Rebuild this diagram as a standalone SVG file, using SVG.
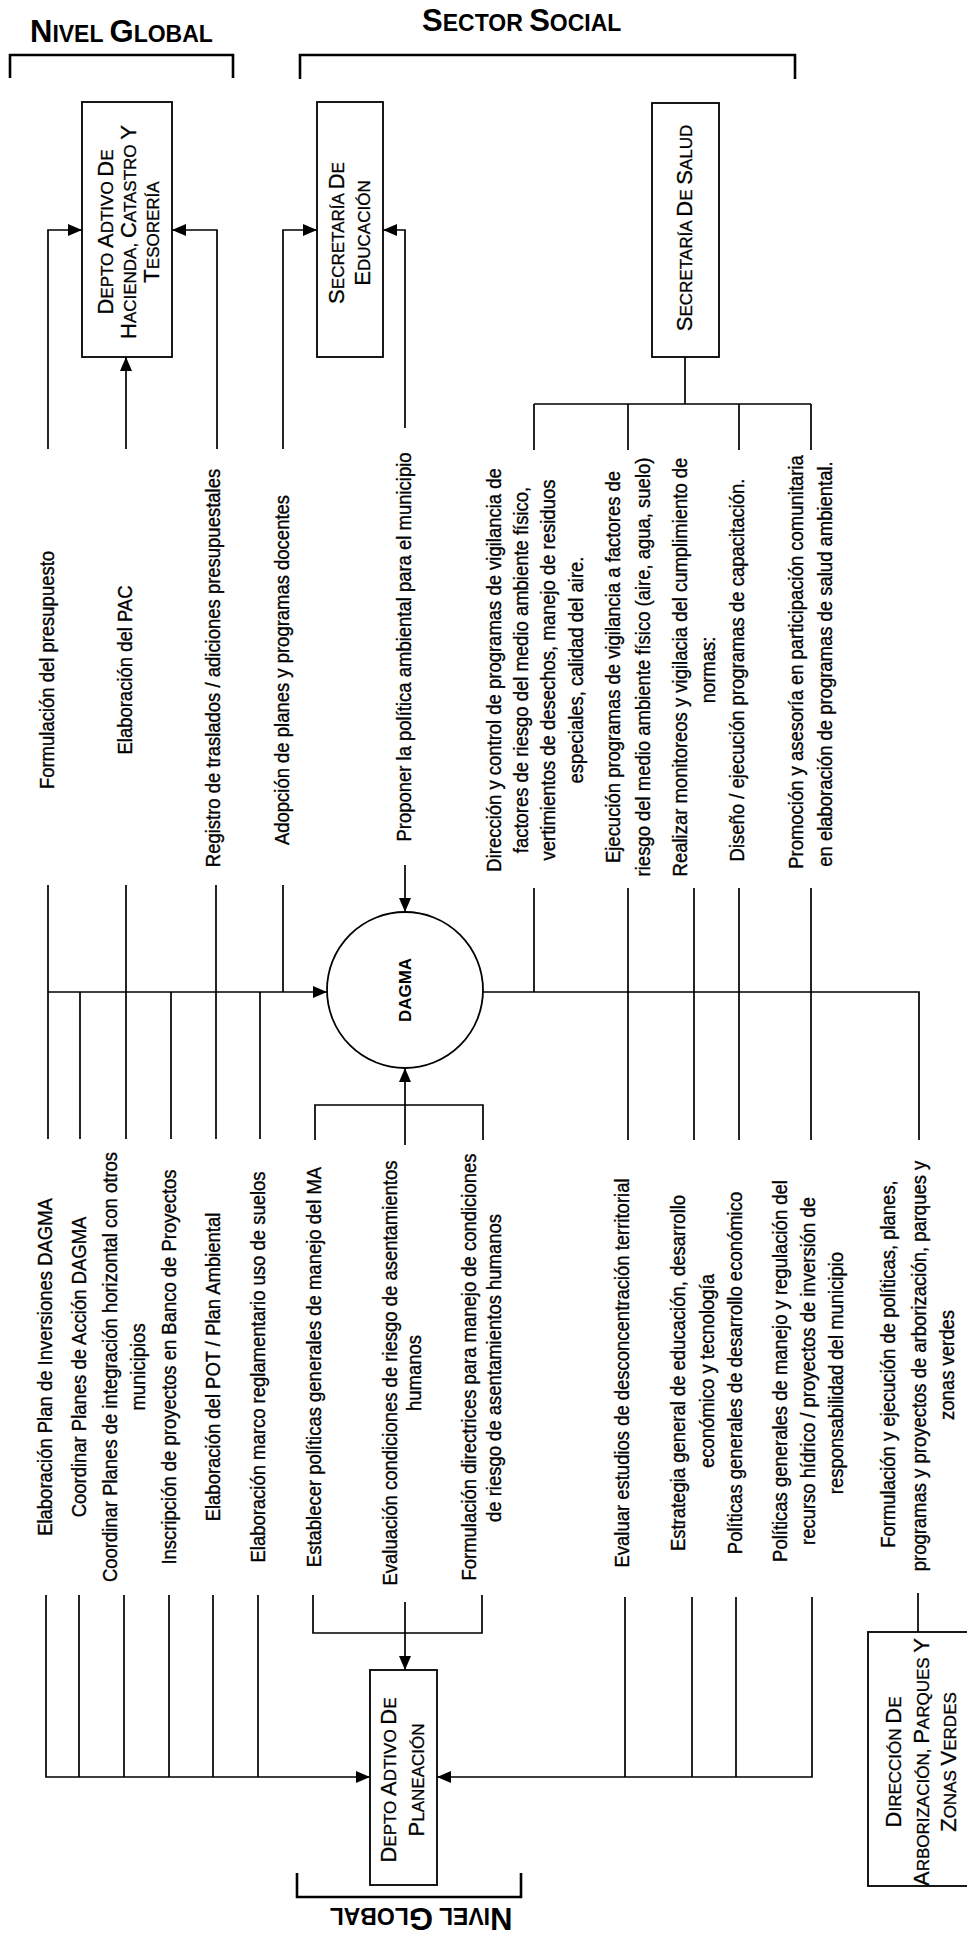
<svg xmlns="http://www.w3.org/2000/svg" width="967" height="1944" viewBox="0 0 967 1944">
<style>
text{font-family:"Liberation Sans",Arial,sans-serif;fill:#000}
.t{font-size:21px;stroke:#000;stroke-width:0.35}
.bx{font-size:17px;stroke:#000;stroke-width:0.3}
.B{font-size:22px}
.h{font-size:23px;font-weight:bold}
.H{font-size:31px}
.c{fill:none;stroke:#000;stroke-width:1.7}
.n{fill:#fff;stroke:#000;stroke-width:1.8}
.br{fill:none;stroke:#000;stroke-width:2.6}
</style>
<defs>
<marker id="ar" viewBox="0 0 14 12" refX="14" refY="6" markerWidth="14" markerHeight="12" markerUnits="userSpaceOnUse" orient="auto">
<path d="M0,0 L14,6 L0,12 z" fill="#000"/>
</marker>
</defs>
<rect width="967" height="1944" fill="#fff"/>

<g id="headers">
<path class="br" d="M10,78 V55 H233 V78"/>
<path class="br" d="M300,79 V55 H795 V79"/>
<path class="br" d="M297,1873 V1897 H521 V1873"/>
<text class="h" x="30" y="42"><tspan class="H">N</tspan>IVEL <tspan class="H">G</tspan>LOBAL</text>
<text class="h" x="422" y="31"><tspan class="H">S</tspan>ECTOR <tspan class="H">S</tspan>OCIAL</text>
<text class="h" text-anchor="middle" transform="translate(421,1908) rotate(180)"><tspan class="H">N</tspan>IVEL <tspan class="H">G</tspan>LOBAL</text>
</g>

<g id="connectors">
<path class="c" d="M48,449 V230 H82" marker-end="url(#ar)"/>
<path class="c" d="M126,449 V357" marker-end="url(#ar)"/>
<path class="c" d="M217,449 V230 H172" marker-end="url(#ar)"/>
<path class="c" d="M283,449 V230 H317" marker-end="url(#ar)"/>
<path class="c" d="M405,428 V230 H383" marker-end="url(#ar)"/>
<path class="c" d="M685,357 V404 M534,404 H811 M534,404 V450 M628,404 V450 M739,404 V450 M811,404 V450"/>
<path class="c" d="M405,865 V912" marker-end="url(#ar)"/>
<path class="c" d="M48,885 V1139 M126,885 V1139 M216,885 V1139 M283,885 V992 M80,992 V1139 M171,992 V1139 M260,992 V1139"/>
<path class="c" d="M48,992 H327" marker-end="url(#ar)"/>
<path class="c" d="M483,992 H919 V1140 M534,888 V992 M628,888 V1140 M694,888 V1140 M739,888 V1140 M811,888 V1140"/>
<path class="c" d="M405,1145 V1068" marker-end="url(#ar)"/>
<path class="c" d="M315,1140 V1105 H483 V1140"/>
<path class="c" d="M46,1595 V1777 H370" marker-end="url(#ar)"/>
<path class="c" d="M79,1595 V1777 M124,1595 V1777 M169,1595 V1777 M213,1595 V1777 M258,1595 V1777"/>
<path class="c" d="M313,1595 V1633 H482 V1595"/>
<path class="c" d="M405,1602 V1670" marker-end="url(#ar)"/>
<path class="c" d="M812,1597 V1777 H437" marker-end="url(#ar)"/>
<path class="c" d="M625,1597 V1777 M692,1597 V1777 M736,1597 V1777"/>
<path class="c" d="M918,1593 V1632"/>
</g>

<g id="hacienda">
<rect class="n" x="82" y="102" width="90" height="255"/>
<text class="bx" text-anchor="middle" transform="translate(113,232) rotate(-90)"><tspan class="B">D</tspan>EPTO <tspan class="B">A</tspan>DTIVO <tspan class="B">D</tspan>E</text>
<text class="bx" text-anchor="middle" transform="translate(136,232) rotate(-90)"><tspan class="B">H</tspan>ACIENDA, <tspan class="B">C</tspan>ATASTRO <tspan class="B">Y</tspan></text>
<text class="bx" text-anchor="middle" transform="translate(159,232) rotate(-90)"><tspan class="B">T</tspan>ESORERÍA</text>
</g>

<g id="educacion">
<rect class="n" x="317" y="102" width="66" height="255"/>
<text class="bx" text-anchor="middle" transform="translate(344,233) rotate(-90)"><tspan class="B">S</tspan>ECRETARÍA <tspan class="B">D</tspan>E</text>
<text class="bx" text-anchor="middle" transform="translate(370,233) rotate(-90)"><tspan class="B">E</tspan>DUCACIÓN</text>
</g>

<g id="salud">
<rect class="n" x="652" y="103" width="67" height="254"/>
<text class="bx" text-anchor="middle" transform="translate(692,228) rotate(-90)"><tspan class="B">S</tspan>ECRETARÍA <tspan class="B">D</tspan>E <tspan class="B">S</tspan>ALUD</text>
</g>

<g id="dagma">
<circle class="n" cx="405" cy="990" r="78"/>
<text text-anchor="middle" font-size="17" font-weight="bold" transform="translate(411,990) rotate(-90)">DAGMA</text>
</g>

<g id="planeacion">
<rect class="n" x="370" y="1670" width="67" height="215"/>
<text class="bx" text-anchor="middle" transform="translate(396,1780) rotate(-90)"><tspan class="B">D</tspan>EPTO <tspan class="B">A</tspan>DTIVO <tspan class="B">D</tspan>E</text>
<text class="bx" text-anchor="middle" transform="translate(424,1780) rotate(-90)"><tspan class="B">P</tspan>LANEACIÓN</text>
</g>

<g id="arborizacion">
<rect class="n" x="868" y="1632" width="110" height="254"/>
<text class="bx" text-anchor="middle" transform="translate(901,1762) rotate(-90)"><tspan class="B">D</tspan>IRECCIÓN <tspan class="B">D</tspan>E</text>
<text class="bx" text-anchor="middle" transform="translate(929,1762) rotate(-90)"><tspan class="B">A</tspan>RBORIZACIÓN, <tspan class="B">P</tspan>ARQUES <tspan class="B">Y</tspan></text>
<text class="bx" text-anchor="middle" transform="translate(956,1762) rotate(-90)"><tspan class="B">Z</tspan>ONAS <tspan class="B">V</tspan>ERDES</text>
</g>

<g id="labels" class="t" text-anchor="middle">
<text transform="translate(54,670) rotate(-90) scale(0.88,1)">Formulación del presupuesto</text>
<text transform="translate(132,670) rotate(-90) scale(0.88,1)">Elaboración del PAC</text>
<text transform="translate(220,668) rotate(-90) scale(0.88,1)">Registro de traslados / adiciones presupuestales</text>
<text transform="translate(289,670) rotate(-90) scale(0.88,1)">Adopción de planes y programas docentes</text>
<text transform="translate(411,647) rotate(-90) scale(0.88,1)">Proponer la política ambiental para el municipio</text>

<text transform="translate(501,670) rotate(-90) scale(0.88,1)">Dirección y control de programas de vigilancia de</text>
<text transform="translate(528,670) rotate(-90) scale(0.88,1)">factores de riesgo del medio ambiente físico,</text>
<text transform="translate(555,670) rotate(-90) scale(0.88,1)">vertimientos de desechos, manejo de residuos</text>
<text transform="translate(583,670) rotate(-90) scale(0.88,1)">especiales, calidad del aire.</text>
<text transform="translate(620,667) rotate(-90) scale(0.88,1)">Ejecución programas de vigilancia a factores de</text>
<text transform="translate(650,667) rotate(-90) scale(0.88,1)">riesgo del medio ambiente físico (aire, agua, suelo)</text>
<text transform="translate(687,667) rotate(-90) scale(0.88,1)">Realizar monitoreos y vigilacia del cumplimiento de</text>
<text transform="translate(715,670) rotate(-90) scale(0.88,1)">normas:</text>
<text transform="translate(744,670) rotate(-90) scale(0.88,1)">Diseño / ejecución programas de capacitación.</text>
<text transform="translate(803,662) rotate(-90) scale(0.88,1)">Promoción y asesoría en participación comunitaria</text>
<text transform="translate(832,664) rotate(-90) scale(0.88,1)">en elaboración de programas de salud ambiental.</text>

<text transform="translate(52,1367) rotate(-90) scale(0.88,1)">Elaboración Plan de Inversiones DAGMA</text>
<text transform="translate(86,1367) rotate(-90) scale(0.88,1)">Coordinar Planes de Acción DAGMA</text>
<text transform="translate(117,1367) rotate(-90) scale(0.88,1)">Coordinar Planes de integración horizontal con otros</text>
<text transform="translate(145,1367) rotate(-90) scale(0.88,1)">municipios</text>
<text transform="translate(176,1367) rotate(-90) scale(0.88,1)">Inscripción de proyectos en Banco de Proyectos</text>
<text transform="translate(220,1367) rotate(-90) scale(0.88,1)">Elaboración del POT / Plan Ambiental</text>
<text transform="translate(265,1367) rotate(-90) scale(0.88,1)">Elaboración marco reglamentario uso de suelos</text>
<text transform="translate(321,1367) rotate(-90) scale(0.88,1)">Establecer políticas generales de manejo del MA</text>
<text transform="translate(397,1373) rotate(-90) scale(0.88,1)">Evaluación condiciones de riesgo de asentamientos</text>
<text transform="translate(421,1373) rotate(-90) scale(0.88,1)">humanos</text>
<text transform="translate(476,1367) rotate(-90) scale(0.88,1)">Formulación directrices para manejo de condiciones</text>
<text transform="translate(501,1368) rotate(-90) scale(0.88,1)">de riesgo de asentamientos humanos</text>

<text transform="translate(629,1373) rotate(-90) scale(0.88,1)">Evaluar estudios de desconcentración territorial</text>
<text transform="translate(685,1373) rotate(-90) scale(0.88,1)">Estrategia general de educación, desarrollo</text>
<text transform="translate(714,1371) rotate(-90) scale(0.88,1)">económico y tecnología</text>
<text transform="translate(742,1373) rotate(-90) scale(0.88,1)">Políticas generales de desarrollo económico</text>
<text transform="translate(787,1371) rotate(-90) scale(0.88,1)">Políticas generales de manejo y regulación del</text>
<text transform="translate(815,1371) rotate(-90) scale(0.88,1)">recurso hídrico / proyectos de inversión de</text>
<text transform="translate(843,1373) rotate(-90) scale(0.88,1)">responsabilidad del municipio</text>
<text transform="translate(895,1364) rotate(-90) scale(0.88,1)">Formulación y ejecución de políticas, planes,</text>
<text transform="translate(926,1366) rotate(-90) scale(0.88,1)">programas y proyectos de arborización, parques y</text>
<text transform="translate(954,1365) rotate(-90) scale(0.88,1)">zonas verdes</text>
</g>
</svg>
